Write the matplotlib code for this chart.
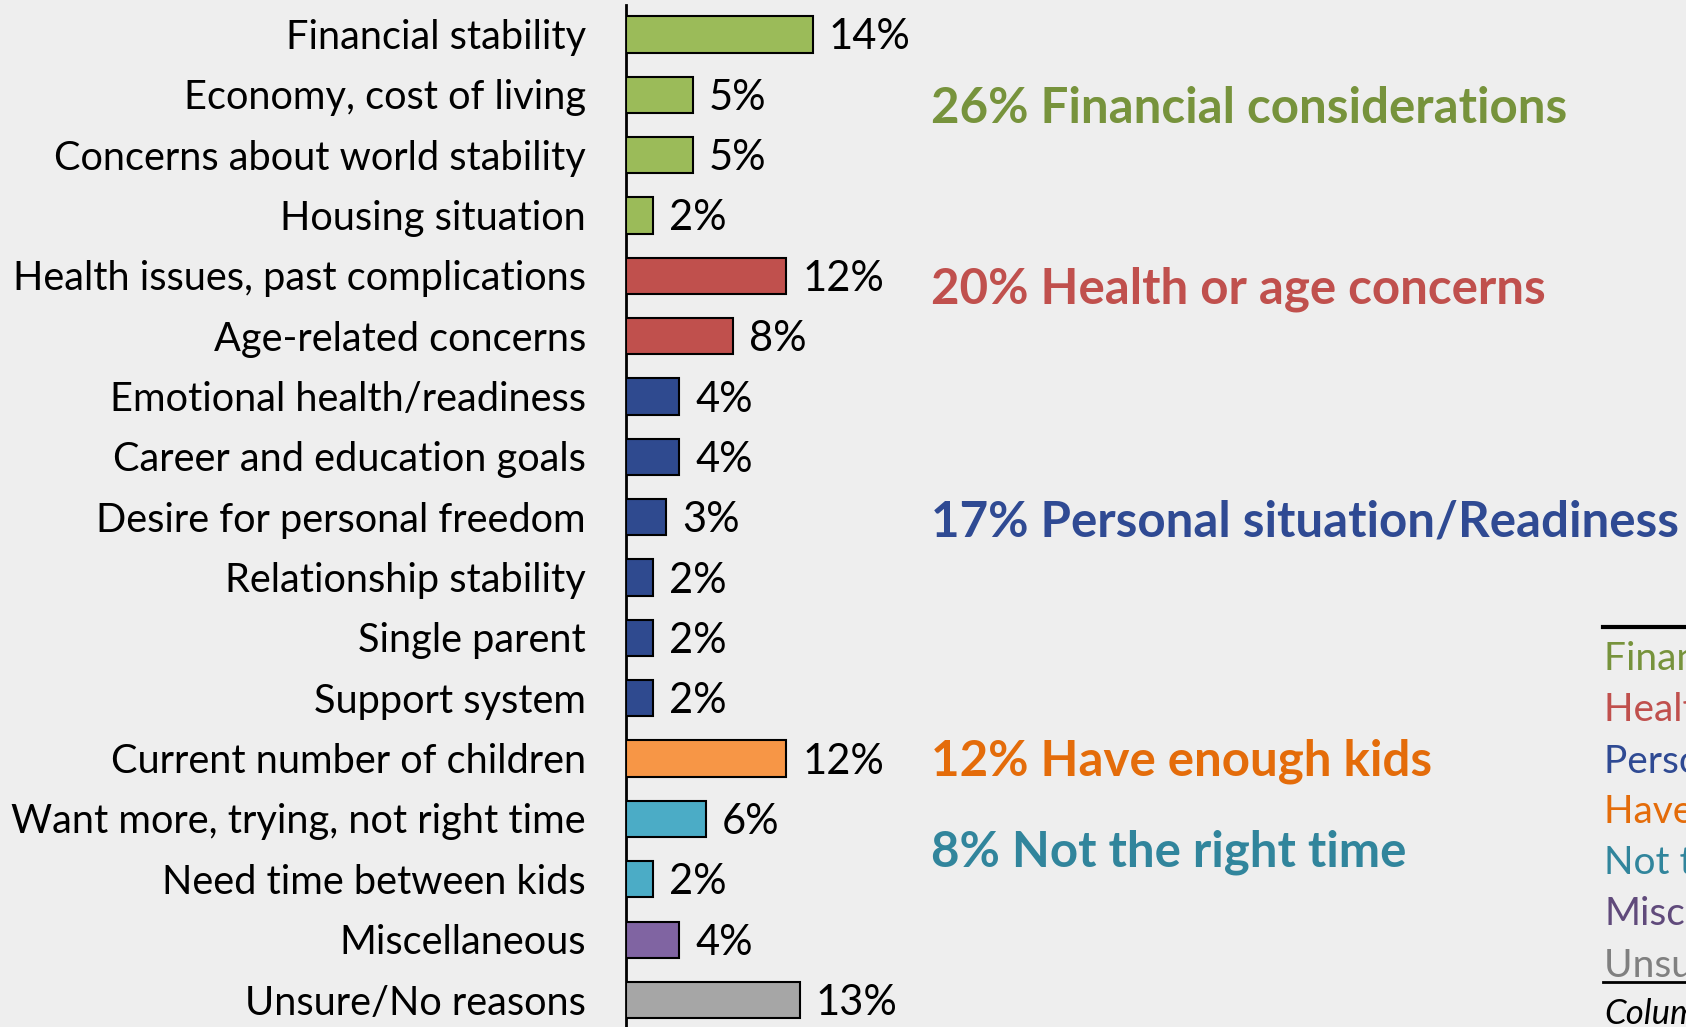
import matplotlib
matplotlib.use('Agg')
import matplotlib.pyplot as plt

plt.rcParams['font.family'] = ['Lato', 'DejaVu Sans']

# data
reasons = ['Financial stability', 'Economy, cost of living', 'Concerns about world stability',
           'Housing situation', 'Health issues, past complications', 'Age-related concerns',
           'Emotional health/readiness', 'Career and education goals', 'Desire for personal freedom',
           'Relationship stability', 'Single parent', 'Support system', 'Current number of children',
           'Want more, trying, not right time', 'Need time between kids', 'Miscellaneous',
           'Unsure/No reasons']
values = [14, 5, 5, 2, 12, 8, 4, 4, 3, 2, 2, 2, 12, 6, 2, 4, 13]
groups = ['fin', 'fin', 'fin', 'fin', 'hea', 'hea', 'per', 'per', 'per', 'per', 'per', 'per',
          'kid', 'time', 'time', 'misc', 'uns']

group_names = ['Financial considerations', 'Health or age concerns', 'Personal situation/Readiness',
               'Have enough kids', 'Not the right time', 'Miscellaneous', 'Unsure/No reasons']
group_keys = ['fin', 'hea', 'per', 'kid', 'time', 'misc', 'uns']
group_totals = [26, 20, 17, 12, 8, None, None]
# row the group headline sits on
group_rows = [1.22, 4.22, 8.08, 12.04, 13.55, None, None]

bar_colors = {'fin': '#9BBB59', 'hea': '#C0504D', 'per': '#2F4A8F', 'kid': '#F79646',
              'time': '#4BACC6', 'misc': '#8064A2', 'uns': '#A6A6A6'}
text_colors = {'fin': '#77933C', 'hea': '#C0504D', 'per': '#2F4A93', 'kid': '#E46C0A',
               'time': '#31859C', 'misc': '#604A7B', 'uns': '#808080'}

bg = '#EEEEEE'
W, H = 1686, 1027
fig = plt.figure(figsize=(W / 100, H / 100), dpi=100, facecolor=bg)
ax = fig.add_axes([626 / W, 0, 1 - 626 / W, (H - 5) / H])
ax.set_facecolor(bg)

px_per_pct = 13.35
ax.set_xlim(0, (W - 626) / px_per_pct)
row_gap = 60.35
ax.set_ylim((H - 34.4) / row_gap, (5 - 34.4) / row_gap)

ypos = list(range(len(reasons)))
ax.barh(ypos, values, height=0.6, color=[bar_colors[g] for g in groups],
        edgecolor='black', linewidth=1.5, zorder=3)

dy = 0.05  # nudge text down a touch
for y, v, name in zip(ypos, values, reasons):
    ax.text(v + 16 / px_per_pct, y + dy, f'{v}%', va='center', ha='left', fontsize=30,
            color='black')
    ax.text(-40 / px_per_pct, y + dy, name, va='center', ha='right', fontsize=28.6,
            color='black', clip_on=False)

for key, tot, row, name in zip(group_keys, group_totals, group_rows, group_names):
    if tot is None:
        continue
    ax.text((931 - 626) / px_per_pct, row, f'{tot}% {name}', va='center', ha='left',
            fontsize=35.5, fontweight='bold', color=text_colors[key])

for s in ['top', 'right', 'bottom']:
    ax.spines[s].set_visible(False)
ax.spines['left'].set_linewidth(2)
ax.spines['left'].set_color('black')
ax.set_xticks([])
ax.set_yticks([])

# legend box at the right edge, mostly cut off in the original
lx = 1604 / W
fig.add_artist(plt.Line2D([1603 / W, 1], [1 - 627 / H, 1 - 627 / H], color='black', lw=3))
for i, (key, name) in enumerate(zip(group_keys, group_names)):
    fig.text(lx, 1 - (659 + i * 51) / H, name, va='center', ha='left', fontsize=28,
             color=text_colors[key])
fig.add_artist(plt.Line2D([1603 / W, 1], [1 - 982 / H, 1 - 982 / H], color='black', lw=2))
fig.text(lx, 1 - 1014 / H, 'Column', va='center', ha='left', fontsize=25, style='italic',
         color='black')

fig.savefig('out.png', dpi=100, facecolor=bg)
